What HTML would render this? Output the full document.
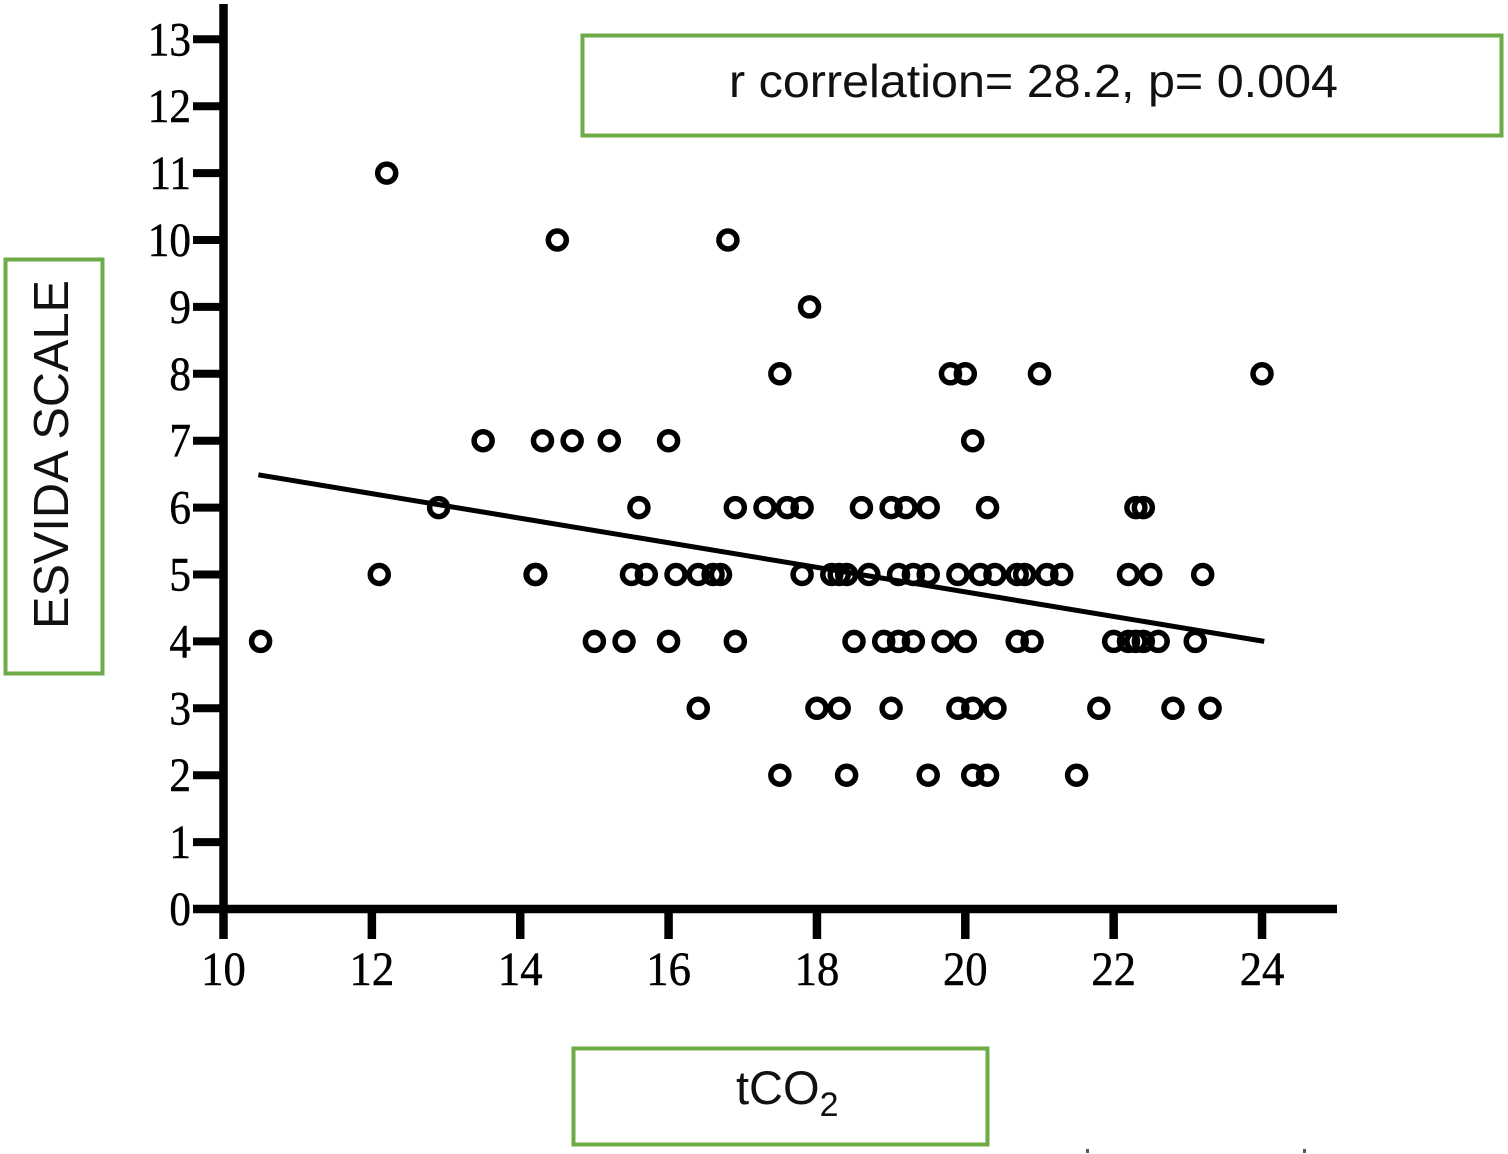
<!DOCTYPE html>
<html lang="en">
<head>
<meta charset="utf-8">
<title>ESVIDA scale vs tCO2 scatter</title>
<style>
  html, body { margin: 0; padding: 0; background: #fff; }
  svg { display: block; }
  .tick-label { font-family: "Liberation Serif", serif; font-size: 48px; fill: #000; stroke: #000; stroke-width: 0.5px; }
  .sans { font-family: "Liberation Sans", sans-serif; fill: #111; }
</style>
</head>
<body>
<svg id="chart" xmlns="http://www.w3.org/2000/svg" width="1508" height="1154" viewBox="0 0 1508 1154">
  <rect x="0" y="0" width="1508" height="1154" fill="#fff"/>
  <g id="marks"></g>
  <g id="fit"></g>
  <g id="axes"></g>
  <g>
    <rect x="582.5" y="35.5" width="919" height="100" fill="none" stroke="#6cab45" stroke-width="4"/>
    <text class="sans" x="729" y="97" font-size="46" textLength="609" lengthAdjust="spacingAndGlyphs">r correlation= 28.2, p= 0.004</text>
  </g>
  <g>
    <rect x="5.5" y="259.5" width="97" height="414" fill="none" stroke="#6cab45" stroke-width="4"/>
    <text class="sans" transform="translate(68,629) rotate(-90)" x="0" y="0" font-size="49" textLength="349" lengthAdjust="spacingAndGlyphs">ESVIDA SCALE</text>
  </g>
  <g>
    <rect x="573.5" y="1048.5" width="414" height="96" fill="none" stroke="#6cab45" stroke-width="4"/>
    <text class="sans" x="736" y="1104" font-size="47">tCO<tspan font-size="34" dy="12">2</tspan></text>
  </g>
  <rect x="1086" y="1149" width="3" height="4" fill="#555"/>
  <rect x="1303" y="1149" width="3" height="4" fill="#555"/>
</svg>
<script>
const xTicks = [10, 12, 14, 16, 18, 20, 22, 24];
const yTicks = [0, 1, 2, 3, 4, 5, 6, 7, 8, 9, 10, 11, 12, 13];
const tco2Values = [
  12.2,
  14.5, 16.8,
  17.9,
  17.5, 19.8, 20.0, 21.0, 24.0,
  13.5, 14.3, 14.7, 15.2, 16.0, 20.1,
  12.9, 15.6, 16.9, 17.3, 17.6, 17.8, 18.6, 19.0, 19.2, 19.5, 20.3, 22.3, 22.4,
  12.1, 14.2, 14.21, 15.5, 15.7, 16.1, 16.4, 16.6, 16.7, 17.8, 18.2, 18.3, 18.4, 18.7, 19.1, 19.3, 19.5, 19.9, 20.2, 20.4, 20.7, 20.8, 21.1, 21.3, 22.2, 22.5, 23.2,
  10.5, 15.0, 15.4, 16.0, 16.9, 18.5, 18.9, 19.1, 19.3, 19.7, 20.0, 20.7, 20.9, 22.0, 22.2, 22.3, 22.4, 22.6, 23.1,
  16.4, 18.0, 18.3, 19.0, 19.9, 20.1, 20.4, 21.8, 22.8, 23.3,
  17.5, 18.4, 19.5, 20.1, 20.3, 21.5
];
const esvidaValues = [
  11,
  10, 10,
  9,
  8, 8, 8, 8, 8,
  7, 7, 7, 7, 7, 7,
  6, 6, 6, 6, 6, 6, 6, 6, 6, 6, 6, 6, 6,
  5, 5, 5, 5, 5, 5, 5, 5, 5, 5, 5, 5, 5, 5, 5, 5, 5, 5, 5, 5, 5, 5, 5, 5, 5, 5, 5,
  4, 4, 4, 4, 4, 4, 4, 4, 4, 4, 4, 4, 4, 4, 4, 4, 4, 4, 4,
  3, 3, 3, 3, 3, 3, 3, 3, 3, 3,
  2, 2, 2, 2, 2, 2
];
const fitX = [10.47, 24.03];
const fitY = [6.49, 4.0];

const NS = 'http://www.w3.org/2000/svg';
function sx(v) { return 223.5 + (v - 10) * 74.18; }
function sy(v) { return 909 - v * 66.9; }
function make(tag, attrs, parent) {
  const el = document.createElementNS(NS, tag);
  for (const k in attrs) el.setAttribute(k, attrs[k]);
  parent.appendChild(el);
  return el;
}

const marks = document.getElementById('marks');
tco2Values.forEach(function (x, i) {
  const c = make('circle', { cx: sx(x), cy: sy(esvidaValues[i]), r: 9, fill: 'none', stroke: '#000', 'stroke-width': 5.5 }, marks);
  
  
});

const fit = document.getElementById('fit');
const fitLine = make('line', { x1: sx(fitX[0]), y1: sy(fitY[0]), x2: sx(fitX[1]), y2: sy(fitY[1]), stroke: '#000', 'stroke-width': 5 }, fit);



const axes = document.getElementById('axes');
const yAxisLine = make('line', { x1: sx(10), y1: 4, x2: sx(10), y2: 912, stroke: '#000', 'stroke-width': 8.5 }, axes);


const xAxisLine = make('line', { x1: 193, y1: sy(0), x2: 1337, y2: sy(0), stroke: '#000', 'stroke-width': 8.5 }, axes);



yTicks.forEach(function (t) {
  const tick = make('line', { x1: 193, y1: sy(t), x2: sx(10), y2: sy(t), stroke: '#000', 'stroke-width': 8 }, axes);
  
  
  const label = make('text', { transform: 'translate(191,' + (sy(t) + 16) + ') scale(0.9,1)', x: 0, y: 0, 'text-anchor': 'end', class: 'tick-label' }, axes);
  
  
  label.textContent = String(t);
});

xTicks.forEach(function (t) {
  const tick = make('line', { x1: sx(t), y1: sy(0), x2: sx(t), y2: 939, stroke: '#000', 'stroke-width': 8.5 }, axes);
  
  
  const label = make('text', { transform: 'translate(' + sx(t) + ',985) scale(0.93,1)', x: 0, y: 0, 'text-anchor': 'middle', class: 'tick-label' }, axes);
  
  
  label.textContent = String(t);
});
</script>
</body>
</html>
